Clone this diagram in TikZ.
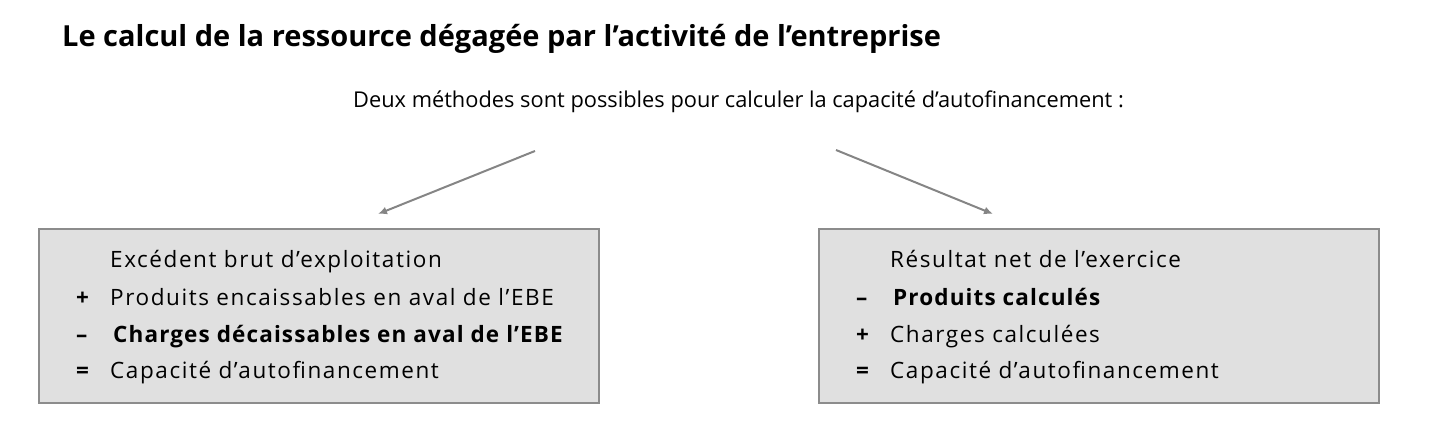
\documentclass[tikz,border=0pt]{standalone}
\usepackage{fontspec}
\setmainfont{Open Sans}
\newfontfamily\boxfont[LetterSpace=7]{Open Sans}
\newfontfamily\boxfontB[LetterSpace=5]{Open Sans}
\usetikzlibrary{arrows.meta}
\definecolor{boxfill}{HTML}{E0E0E0}
\definecolor{boxborder}{HTML}{8C8C8C}
\definecolor{arrowgray}{HTML}{858585}
\begin{document}
\begin{tikzpicture}[x=1pt,y=-1pt,
  boxst/.style={draw=boxborder,line width=2pt,fill=boxfill,minimum width=560pt,minimum height=174pt,inner sep=0pt,anchor=north west},
  linest/.style={anchor=base west,inner sep=0pt,font=\boxfont\fontsize{22.5}{26}\selectfont},
  signst/.style={linest,font=\boxfont\fontsize{22.5}{26}\selectfont\bfseries},
  boldline/.style={linest,font=\boxfontB\fontsize{22.5}{26}\selectfont\bfseries},
  arr/.style={draw=arrowgray,line width=2pt,-{Latex[length=9pt,width=8pt]}}]
\useasboundingbox (0,0) rectangle (1429,441);
\node[anchor=base west,inner sep=0pt,font=\bfseries\fontsize{29}{33}\selectfont] (title) at (62,47) {Le calcul de la ressource dégagée par l’activité de l’entreprise};
\node[anchor=base west,inner sep=0pt,font=\fontsize{21.8}{26}\selectfont] (sub) at (353,108) {Deux méthodes sont possibles pour calculer la capacité d’autofinancement :};
% boxes
\node[boxst] (boxL) at (38,228) {};
\node[boxst] (boxR) at (818,228) {};
% arrows
\coordinate (aLs) at (535,151);
\coordinate (aLe) at (378,214);
\coordinate (aRs) at (836,150);
\coordinate (aRe) at (993,214);
\draw[arr] (aLs) -- (aLe);
\draw[arr] (aRs) -- (aRe);
% left box lines
\node[linest] (l1) at (110,267) {Excédent brut d’exploitation};
\node[signst] (l2s) at (76,305) {+};
\node[linest] (l2) at (110,305) {Produits encaissables en aval de l’EBE};
\node[signst] (l3s) at (76,342) {–};
\node[boldline] (l3) at (113,342) {Charges décaissables en aval de l’EBE};
\node[signst] (l4s) at (76,378) {=};
\node[linest] (l4) at (110,378) {Capacité d’autofinancement};
% right box lines
\node[linest] (r1) at (890,267) {Résultat net de l’exercice};
\node[signst] (r2s) at (856,305) {–};
\node[boldline] (r2) at (893,305) {Produits calculés};
\node[signst] (r3s) at (856,342) {+};
\node[linest] (r3) at (890,342) {Charges calculées};
\node[signst] (r4s) at (856,378) {=};
\node[linest] (r4) at (890,378) {Capacité d’autofinancement};
\end{tikzpicture}
\end{document}
